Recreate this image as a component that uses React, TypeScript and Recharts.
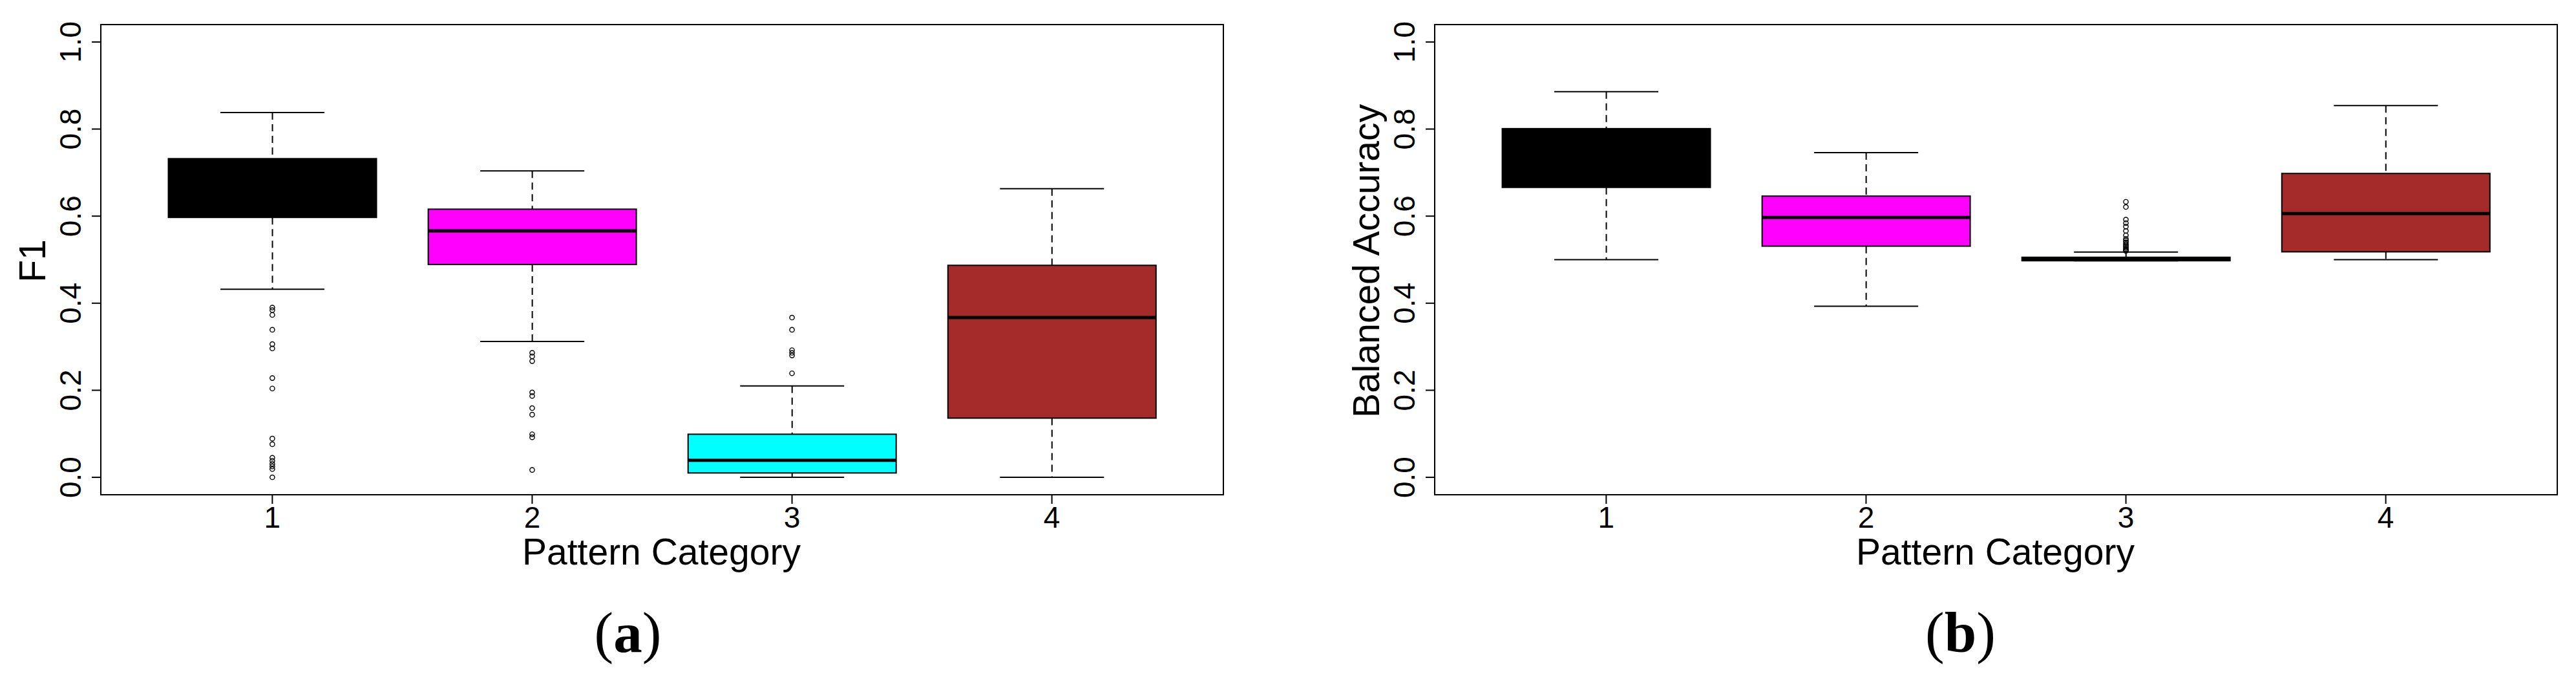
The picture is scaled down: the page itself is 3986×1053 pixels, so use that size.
import React from 'react';
import { ComposedChart, Bar, Scatter, XAxis, YAxis, ReferenceArea, Label } from 'recharts';

// ---------- data ----------
const categories = [1, 2, 3, 4];
const categoryLabels = ['1', '2', '3', '4'];
const boxColors = ['#000000', '#FF00FF', '#00FFFF', '#A52A2A'];
const yTicks = [0, 0.2, 0.4, 0.6, 0.8, 1.0];
const yTickLabels = ['0.0', '0.2', '0.4', '0.6', '0.8', '1.0'];

// Panel (a): F1
const f1Lower = [0.432, 0.312, 0.0, 0.0];
const f1Q1 = [0.597, 0.489, 0.010, 0.136];
const f1Median = [0.66, 0.566, 0.039, 0.367];
const f1Q3 = [0.732, 0.616, 0.099, 0.487];
const f1Upper = [0.838, 0.704, 0.210, 0.663];
const f1Outliers1 = [0.390, 0.384, 0.373, 0.339, 0.306, 0.296, 0.228, 0.204, 0.089, 0.076, 0.045, 0.038, 0.031, 0.025, 0.019, 0.0];
const f1Outliers2 = [0.286, 0.278, 0.267, 0.195, 0.187, 0.159, 0.144, 0.099, 0.092, 0.017];
const f1Outliers3 = [0.367, 0.339, 0.292, 0.286, 0.280, 0.239];
const f1Outliers4: number[] = [];

// Panel (b): Balanced Accuracy
const baLower = [0.500, 0.393, 0.4975, 0.500];
const baQ1 = [0.666, 0.531, 0.4975, 0.518];
const baMedian = [0.73, 0.597, 0.501, 0.606];
const baQ3 = [0.801, 0.646, 0.5055, 0.698];
const baUpper = [0.886, 0.746, 0.5175, 0.854];
const baOutliers1: number[] = [];
const baOutliers2: number[] = [];
const baOutliers3 = [0.633, 0.621, 0.592, 0.584, 0.576, 0.566, 0.556, 0.548, 0.544, 0.540, 0.536, 0.533, 0.530, 0.527, 0.524, 0.522, 0.520];
const baOutliers4: number[] = [];

// ---------- builders ----------
function buildBoxes(lower: number[], q1: number[], med: number[], q3: number[], upper: number[]) {
  return categories.map((c, i) => ({
    pos: c,
    lo: lower[i],
    q1: q1[i],
    med: med[i],
    q3: q3[i],
    hi: upper[i],
    color: boxColors[i],
    range: [lower[i], upper[i]],
  }));
}

function buildOutliers(groups: number[][]) {
  const out: { pos: number; value: number }[] = [];
  groups.forEach((vals, i) => vals.forEach((v) => out.push({ pos: categories[i], value: v })));
  return out;
}

const f1Boxes = buildBoxes(f1Lower, f1Q1, f1Median, f1Q3, f1Upper);
const f1Points = buildOutliers([f1Outliers1, f1Outliers2, f1Outliers3, f1Outliers4]);
const baBoxes = buildBoxes(baLower, baQ1, baMedian, baQ3, baUpper);
const baPoints = buildOutliers([baOutliers1, baOutliers2, baOutliers3, baOutliers4]);

// ---------- styles ----------
const SANS = '"Liberation Sans", Arial, Helvetica, sans-serif';
const SERIF = '"Liberation Serif", "Times New Roman", serif';

function BoxShape(props: any) {
  const { x, y, width, height, payload } = props;
  if (!payload || !Number.isFinite(x) || !Number.isFinite(y)) return null;
  const top = Math.min(y, y + height);
  const h = Math.abs(height);
  const span = payload.hi - payload.lo;
  const py = (v: number) => top + ((payload.hi - v) / span) * h;
  const cx = x + width / 2;
  const half = width / 2;
  const cap = width / 4;
  const yHi = py(payload.hi);
  const yQ3 = py(payload.q3);
  const yMed = py(payload.med);
  const yQ1 = py(payload.q1);
  const yLo = py(payload.lo);
  return (
    <g>
      <line x1={cx} x2={cx} y1={yHi} y2={yQ3} stroke="#000" strokeWidth={2} strokeDasharray="11 7" />
      <line x1={cx} x2={cx} y1={yQ1} y2={yLo} stroke="#000" strokeWidth={2} strokeDasharray="11 7" />
      <line x1={cx - cap} x2={cx + cap} y1={yHi} y2={yHi} stroke="#000" strokeWidth={2} />
      <line x1={cx - cap} x2={cx + cap} y1={yLo} y2={yLo} stroke="#000" strokeWidth={2} />
      <rect x={cx - half} y={yQ3} width={width} height={Math.max(0, yQ1 - yQ3)} fill={payload.color} stroke="#000" strokeWidth={2} />
      <line x1={cx - half} x2={cx + half} y1={yMed} y2={yMed} stroke="#000" strokeWidth={5} />
    </g>
  );
}

function OutlierShape(props: any) {
  const { cx, cy } = props;
  if (!Number.isFinite(cx) || !Number.isFinite(cy)) return null;
  return <circle cx={cx} cy={cy} r={3.6} fill="none" stroke="#000" strokeWidth={1.4} />;
}

function YTick(props: any) {
  const { x, y, payload } = props;
  const idx = yTicks.indexOf(payload.value);
  const label = idx >= 0 ? yTickLabels[idx] : String(payload.value);
  return (
    <text x={x} y={y} transform={`rotate(-90, ${x}, ${y})`} textAnchor="middle" fontSize={46} fontFamily={SANS} fill="#000">
      {label}
    </text>
  );
}

function XTick(props: any) {
  const { x, y, payload } = props;
  const idx = categories.indexOf(payload.value);
  const label = idx >= 0 ? categoryLabels[idx] : String(payload.value);
  return (
    <text x={x} y={y + 33} textAnchor="middle" fontSize={46} fontFamily={SANS} fill="#000">
      {label}
    </text>
  );
}

function makeYTitle(title: string) {
  return (p: any) => {
    const vb = p.viewBox || {};
    const bx = vb.x + vb.width - 86;
    const cy = vb.y + vb.height / 2 + 2;
    return (
      <text x={bx} y={cy} transform={`rotate(-90, ${bx}, ${cy})`} textAnchor="middle" fontSize={57} fontFamily={SANS} fill="#000">
        {title}
      </text>
    );
  };
}

function makeXTitle(title: string, caption: string, captionShift: number) {
  return (p: any) => {
    const vb = p.viewBox || {};
    const cx = vb.x + vb.width / 2;
    return (
      <g>
        <text x={cx - 1} y={vb.y + 107.5} textAnchor="middle" fontSize={57} fontFamily={SANS} fill="#000">
          {title}
        </text>
        <text x={cx + captionShift} y={vb.y + 243} textAnchor="middle" fontSize={89} fontFamily={SERIF} fill="#000">
          <tspan>(</tspan>
          <tspan fontWeight="bold">{caption}</tspan>
          <tspan>)</tspan>
        </text>
      </g>
    );
  };
}

function Panel(props: {
  left: number;
  boxes: any[];
  points: any[];
  yTitle: string;
  caption: string;
  marginLeft: number;
  marginRight: number;
  captionShift: number;
}) {
  const { left, boxes, points, yTitle, caption, marginLeft, marginRight, captionShift } = props;
  return (
    <div style={{ position: 'absolute', left, top: 0 }}>
      <ComposedChart
        width={1993}
        height={1053}
        data={boxes}
        margin={{ top: 38, right: marginRight, bottom: 228, left: marginLeft }}
        barCategoryGap="10%"
      >
        <ReferenceArea
          x1={0.34}
          x2={4.66}
          y1={-0.04}
          y2={1.04}
          fill="none"
          fillOpacity={0}
          stroke="#000"
          strokeWidth={2}
          ifOverflow="visible"
        />
        <XAxis
          type="number"
          dataKey="pos"
          domain={[0.34, 4.66]}
          allowDataOverflow
          ticks={categories}
          interval={0}
          axisLine={false}
          tickLine={{ stroke: '#000', strokeWidth: 2 }}
          tickSize={14}
          tickMargin={4}
          tick={<XTick />}
          height={60}
        >
          <Label content={makeXTitle('Pattern Category', caption, captionShift)} />
        </XAxis>
        <YAxis
          type="number"
          domain={[-0.04, 1.04]}
          allowDataOverflow
          ticks={yTicks}
          interval={0}
          axisLine={false}
          tickLine={{ stroke: '#000', strokeWidth: 2 }}
          tickSize={14}
          tickMargin={17}
          tick={<YTick />}
          width={100}
        >
          <Label content={makeYTitle(yTitle)} />
        </YAxis>
        <Bar dataKey="range" shape={<BoxShape />} isAnimationActive={false} />
        <Scatter data={points} dataKey="value" shape={<OutlierShape />} isAnimationActive={false} />
      </ComposedChart>
    </div>
  );
}

export default function App() {
  return (
    <div style={{ position: 'absolute', left: 0, top: 0, width: 3986, height: 1053, background: '#fff', fontFamily: SANS }}>
      <Panel left={0} boxes={f1Boxes} points={f1Points} yTitle="F1" caption="a" marginLeft={56} marginRight={100} captionShift={-53} />
      <Panel left={1993} boxes={baBoxes} points={baPoints} yTitle="Balanced Accuracy" caption="b" marginLeft={127} marginRight={29} captionShift={-55} />
    </div>
  );
}
